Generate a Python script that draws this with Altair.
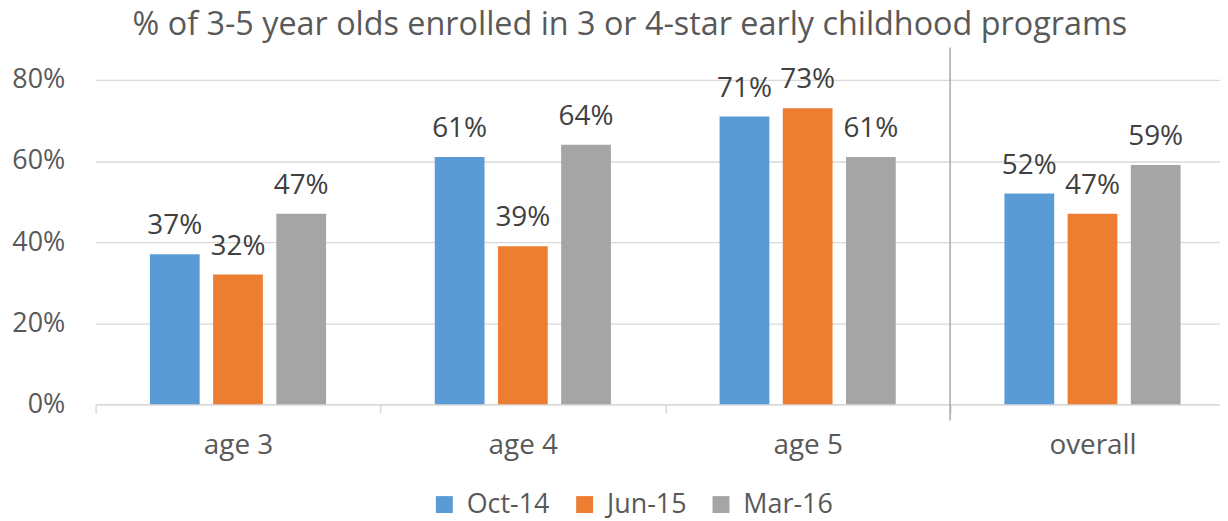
import altair as alt
import pandas as pd

categories = ["age 3", "age 4", "age 5", "overall"]
series = ["Oct-14", "Jun-15", "Mar-16"]
oct_14 = [0.37, 0.61, 0.71, 0.52]
jun_15 = [0.32, 0.39, 0.73, 0.47]
mar_16 = [0.47, 0.64, 0.61, 0.59]
colors = ["#5B9BD5", "#ED7D31", "#A5A5A5"]
y_ticks = [0, 0.2, 0.4, 0.6, 0.8]
separator_at = "overall"
separator_span = [0.88, -0.04]
title_text = "% of 3-5 year olds enrolled in 3 or 4-star early childhood programs"

rows = []
for s, vals in zip(series, [oct_14, jun_15, mar_16]):
    for c, v in zip(categories, vals):
        rows.append({"category": c, "series": s, "value": v})
df = pd.DataFrame(rows)
sep = pd.DataFrame({"category": [separator_at],
                    "top": [separator_span[0]],
                    "bottom": [separator_span[1]]})

FONT = "Open Sans"
AXIS_COLOR = "#595959"
GRID = "#d9d9d9"

x_scale = alt.Scale(domain=categories, range=[0, 1145], paddingInner=0, paddingOuter=0)
x_axis = alt.Axis(title=None, labelAngle=0, labelFont=FONT, labelFontSize=28,
                  labelColor=AXIS_COLOR, labelPadding=40, labelBaseline="alphabetic",
                  tickBand="extent", tickSize=9, tickColor=GRID, tickWidth=1.5,
                  domainColor=GRID, domainWidth=1.5, grid=False)
y_scale = alt.Scale(domain=[0, 0.8], nice=False)
y_axis = alt.Axis(values=y_ticks, format=".0%", title=None, domain=False, ticks=False,
                  tickSize=0, labelPadding=31, labelFont=FONT, labelFontSize=27,
                  labelColor=AXIS_COLOR, gridColor=GRID, gridWidth=1.3)

xoff = alt.XOffset("series:N", sort=series,
                   scale=alt.Scale(domain=series, paddingInner=0.2126, paddingOuter=0.86))

base = alt.Chart(df).encode(
    x=alt.X("category:N", sort=categories, scale=x_scale, axis=x_axis),
    xOffset=xoff,
    y=alt.Y("value:Q", scale=y_scale, axis=y_axis),
)

bars = base.mark_bar().encode(
    color=alt.Color("series:N", sort=series,
                    scale=alt.Scale(domain=series, range=colors),
                    legend=alt.Legend(title=None, orient="none", direction="horizontal",
                                      legendX=337, legendY=413, symbolType="square",
                                      symbolSize=289, symbolStrokeWidth=0,
                                      labelFont=FONT, labelFontSize=27,
                                      labelColor=AXIS_COLOR, labelOffset=9,
                                      columnPadding=21))
)

labels = base.mark_text(dy=-20, baseline="alphabetic", font=FONT, fontSize=28,
                        color="#404040").encode(
    text=alt.Text("value:Q", format=".0%")
)

separator = alt.Chart(sep).mark_rule(color="#a6a6a6", strokeWidth=1.5).encode(
    x=alt.X("category:N", sort=categories, scale=x_scale, axis=x_axis, bandPosition=0),
    y=alt.Y("top:Q", scale=y_scale, axis=y_axis),
    y2="bottom:Q",
)

chart = alt.layer(bars, labels, separator).properties(
    width=1130,
    height=326,
    title=alt.TitleParams(title_text, font=FONT, fontSize=32.5, color=AXIS_COLOR,
                          fontWeight="normal", anchor="middle", dx=-28, offset=5),
    autosize=alt.AutoSizeParams(type="none"),
    padding={"left": 88, "top": 71, "right": 0, "bottom": 116},
).configure_view(stroke=None)

chart.save("out.html", embed_options={"renderer": "svg", "actions": False})
